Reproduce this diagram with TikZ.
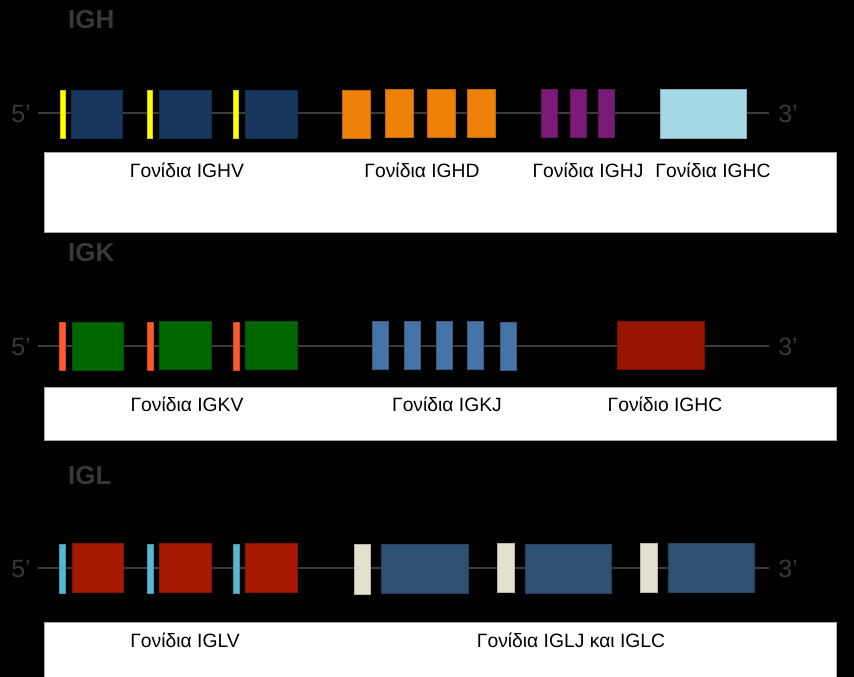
\documentclass[tikz,border=0pt]{standalone}
\usepackage{fontspec}
\setmainfont{Liberation Sans}
\definecolor{navy}{HTML}{17375E}
\definecolor{yel}{HTML}{FFFF00}
\definecolor{orng}{HTML}{EE8208}
\definecolor{purp}{HTML}{7B1A78}
\definecolor{lblue}{HTML}{A5D7E5}
\definecolor{dgreen}{HTML}{006600}
\definecolor{ored}{HTML}{FF5A2B}
\definecolor{steel}{HTML}{4674A6}
\definecolor{dred}{HTML}{961400}
\definecolor{cyanb}{HTML}{55B9D3}
\definecolor{red2}{HTML}{A61A03}
\definecolor{cream}{HTML}{E4E1CE}
\definecolor{slate}{HTML}{2E5172}
\definecolor{txtgray}{HTML}{383838}
\definecolor{linegray}{HTML}{3C3C3C}
\tikzset{
  gbox/.style={draw=#1!80!black, fill=#1, line width=0.6pt, inner sep=0pt, outer sep=0pt, anchor=north west},
  panel/.style={draw=gray!70, fill=white, line width=0.8pt, inner sep=0pt, outer sep=0pt, anchor=north west},
  title/.style={font=\fontsize{26}{28}\selectfont\bfseries, text=txtgray, anchor=north west, inner sep=0pt},
  endlbl/.style={font=\fontsize{25}{27}\selectfont, text=txtgray, inner sep=0pt},
  genelbl/.style={font=\fontsize{19.3}{21}\selectfont, text=black, inner sep=0pt},
  dna/.style={draw=linegray, line width=1.8pt}
}
\begin{document}
\begin{tikzpicture}[x=1pt,y=-1pt]
\fill[black] (0,0) rectangle (854,677);
\useasboundingbox (0,0) rectangle (854,677);

% ---------------- IGH ----------------
\node[title] (tH) at (68,10) {IGH};
\node[endlbl] (h5) at (21,114) {5’};
\node[endlbl] (h3) at (788,114) {3’};
\coordinate (hL) at (38,113);
\coordinate (hR) at (769,113);
\draw[dna] (hL) -- (hR);
\node[gbox=yel, minimum width=5pt, minimum height=48pt] (hy1) at (60,90) {};
\node[gbox=navy, minimum width=51pt, minimum height=48pt] (hv1) at (71,90) {};
\node[gbox=yel, minimum width=5pt, minimum height=48pt] (hy2) at (147,90) {};
\node[gbox=navy, minimum width=52pt, minimum height=48pt] (hv2) at (159,90) {};
\node[gbox=yel, minimum width=5pt, minimum height=48pt] (hy3) at (233,90) {};
\node[gbox=navy, minimum width=52pt, minimum height=48pt] (hv3) at (245,90) {};
\node[gbox=orng, minimum width=28pt, minimum height=48pt] (hd1) at (342,90) {};
\node[gbox=orng, minimum width=28pt, minimum height=48pt] (hd2) at (385,89) {};
\node[gbox=orng, minimum width=28pt, minimum height=48pt] (hd3) at (427,89) {};
\node[gbox=orng, minimum width=28pt, minimum height=48pt] (hd4) at (467,89) {};
\node[gbox=purp, minimum width=16pt, minimum height=48pt] (hj1) at (541,89) {};
\node[gbox=purp, minimum width=16pt, minimum height=48pt] (hj2) at (570,89) {};
\node[gbox=purp, minimum width=16pt, minimum height=48pt] (hj3) at (598,89) {};
\node[gbox=lblue, minimum width=86pt, minimum height=49pt] (hc) at (660,89) {};
\node[panel, minimum width=792pt, minimum height=80pt] (pH) at (44,152) {};
\node[genelbl] (lHV) at (187,170) {Γονίδια IGHV};
\node[genelbl] (lHD) at (422,170) {Γονίδια IGHD};
\node[genelbl] (lHJ) at (588,170) {Γονίδια IGHJ};
\node[genelbl] (lHC) at (713,170) {Γονίδια IGHC};

% ---------------- IGK ----------------
\node[title] (tK) at (68,243) {IGK};
\node[endlbl] (k5) at (21,347) {5’};
\node[endlbl] (k3) at (788,347) {3’};
\coordinate (kL) at (38,346);
\coordinate (kR) at (769,346);
\draw[dna] (kL) -- (kR);
\node[gbox=ored, minimum width=6pt, minimum height=48pt] (ko1) at (59,322) {};
\node[gbox=dgreen, minimum width=51pt, minimum height=48pt] (kv1) at (72,322) {};
\node[gbox=ored, minimum width=6pt, minimum height=48pt] (ko2) at (147,322) {};
\node[gbox=dgreen, minimum width=52pt, minimum height=48pt] (kv2) at (159,321) {};
\node[gbox=ored, minimum width=6pt, minimum height=48pt] (ko3) at (233,322) {};
\node[gbox=dgreen, minimum width=52pt, minimum height=48pt] (kv3) at (245,321) {};
\node[gbox=steel, minimum width=16pt, minimum height=48pt] (kj1) at (372,321) {};
\node[gbox=steel, minimum width=16pt, minimum height=48pt] (kj2) at (404,321) {};
\node[gbox=steel, minimum width=16pt, minimum height=48pt] (kj3) at (436,321) {};
\node[gbox=steel, minimum width=16pt, minimum height=48pt] (kj4) at (467,321) {};
\node[gbox=steel, minimum width=16pt, minimum height=48pt] (kj5) at (500,322) {};
\node[gbox=dred, minimum width=87pt, minimum height=48pt] (kc) at (617,321) {};
\node[panel, minimum width=792pt, minimum height=53pt] (pK) at (44,387) {};
\node[genelbl] (lKV) at (187,404) {Γονίδια IGKV};
\node[genelbl] (lKJ) at (447,404) {Γονίδια IGKJ};
\node[genelbl] (lKC) at (665,404) {Γονίδιο IGHC};

% ---------------- IGL ----------------
\node[title] (tL) at (68,466) {IGL};
\node[endlbl] (l5) at (21,569) {5’};
\node[endlbl] (l3) at (788,569) {3’};
\coordinate (lL) at (38,568);
\coordinate (lR) at (769,568);
\draw[dna] (lL) -- (lR);
\node[gbox=cyanb, minimum width=6pt, minimum height=49pt] (lc1) at (59,544) {};
\node[gbox=red2, minimum width=51pt, minimum height=49pt] (lv1) at (72,543) {};
\node[gbox=cyanb, minimum width=6pt, minimum height=49pt] (lc2) at (147,544) {};
\node[gbox=red2, minimum width=52pt, minimum height=49pt] (lv2) at (159,543) {};
\node[gbox=cyanb, minimum width=6pt, minimum height=49pt] (lc3) at (233,544) {};
\node[gbox=red2, minimum width=52pt, minimum height=49pt] (lv3) at (245,543) {};
\node[gbox=cream, minimum width=16pt, minimum height=50pt] (lj1) at (354,544) {};
\node[gbox=slate, minimum width=87pt, minimum height=49pt] (lk1) at (381,544) {};
\node[gbox=cream, minimum width=17pt, minimum height=49pt] (lj2) at (497,543) {};
\node[gbox=slate, minimum width=86pt, minimum height=49pt] (lk2) at (525,544) {};
\node[gbox=cream, minimum width=17pt, minimum height=49pt] (lj3) at (640,543) {};
\node[gbox=slate, minimum width=86pt, minimum height=49pt] (lk3) at (668,543) {};
\node[panel, minimum width=792pt, minimum height=55pt] (pL) at (44,622) {};
\node[genelbl] (lLV) at (185,640) {Γονίδια IGLV};
\node[genelbl] (lLJ) at (571,640) {Γονίδια IGLJ και IGLC};
\end{tikzpicture}
\end{document}
